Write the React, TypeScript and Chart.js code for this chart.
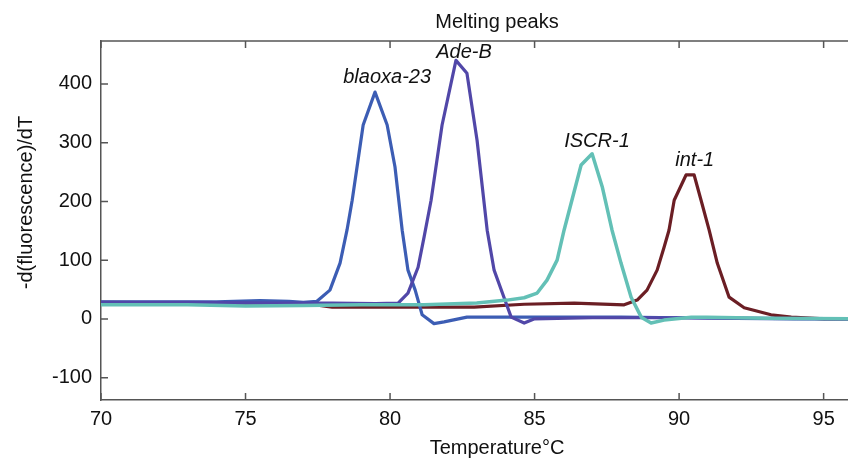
import { useEffect, useRef } from "react";
import { Chart, registerables } from "chart.js";

Chart.register(...registerables);

// ---- Data ----
const xTicks = [70, 75, 80, 85, 90, 95];
const yTicks = [-100, 0, 100, 200, 300, 400];

const blaoxaTemps = [70, 72, 74, 75.5, 76.5, 77.0, 77.47, 77.92, 78.27, 78.51, 78.69, 79.07, 79.48, 79.9, 80.17, 80.42, 80.62, 80.87, 81.11, 81.52, 81.87, 82.66, 84, 86, 88, 90, 92, 94, 96, 97.4];
const blaoxaValues = [29, 29, 29, 31, 30, 28, 30, 49, 95, 151, 202, 330, 386, 330, 259, 151, 83, 49, 7, -8, -5, 3, 3, 3, 3, 2, 1, 0, 0, 0];

const adeTemps = [70, 73, 76, 78, 79.5, 80.28, 80.62, 80.97, 81.18, 81.42, 81.8, 82.28, 82.66, 83.01, 83.36, 83.6, 83.94, 84.19, 84.64, 84.98, 87, 90, 93, 97.4];
const adeValues = [28, 28, 27, 27, 26, 27, 44, 88, 140, 202, 330, 440, 418, 304, 151, 83, 37, 3, -7, 0, 2, 2, 1, 0];

const iscrTemps = [70, 73, 75, 77, 79, 81.18, 83, 84.05, 84.64, 85.09, 85.43, 85.78, 86.02, 86.61, 86.99, 87.34, 87.68, 87.99, 88.34, 88.69, 89.03, 89.48, 90.42, 90.97, 93, 97.4];
const iscrValues = [24, 24, 22, 23, 24, 24, 27, 32, 36, 44, 66, 100, 151, 262, 281, 225, 151, 95, 37, 3, -7, -2, 3, 3, 1, 0];

const intTemps = [70, 74, 77, 78, 81.18, 82.91, 84.64, 86.37, 88.1, 88.55, 88.89, 89.24, 89.48, 89.65, 89.83, 90.24, 90.52, 90.76, 91.04, 91.32, 91.73, 92.25, 93.18, 93.88, 95.02, 97.4];
const intValues = [28, 27, 27, 20, 20, 20, 25, 27, 24, 32, 49, 83, 122, 151, 202, 245, 245, 202, 151, 95, 37, 19, 7, 3, 0, 0];

const labelNames = ["blaoxa-23", "Ade-B", "ISCR-1", "int-1"];
const labelTemps = [79.9, 82.56, 87.16, 90.54];
const labelValues = [401, 444, 293, 260];

const yTitle = "-d(fluorescence)/dT";

const FONT = '"Liberation Sans", Arial, Helvetica, sans-serif';

function pts(t: number[], v: number[]) {
  return t.map((x, i) => ({ x, y: v[i] }));
}

const framePlugin = {
  id: "frame",
  afterDraw(chart: any) {
    const { ctx, chartArea, scales } = chart;
    const { left, right, top, bottom } = chartArea;
    const x = scales.x;
    const y = scales.y;
    ctx.save();
    ctx.strokeStyle = "#555";
    ctx.lineWidth = 1.5;
    ctx.beginPath();
    ctx.moveTo(left, top);
    ctx.lineTo(right, top);
    for (const v of xTicks) {
      const px = x.getPixelForValue(v);
      ctx.moveTo(px, bottom);
      ctx.lineTo(px, bottom - 7);
      ctx.moveTo(px, top);
      ctx.lineTo(px, top + 7);
    }
    for (const v of yTicks) {
      const py = y.getPixelForValue(v);
      ctx.moveTo(left, py);
      ctx.lineTo(left + 7, py);
    }
    ctx.stroke();
    ctx.fillStyle = "#111";
    // y axis title
    ctx.save();
    ctx.font = `20px ${FONT}`;
    ctx.translate(26, (top + bottom) / 2 - 18);
    ctx.rotate(-Math.PI / 2);
    ctx.textAlign = "center";
    ctx.textBaseline = "middle";
    ctx.fillText(yTitle, 0, 0);
    ctx.restore();
    // peak labels
    ctx.font = `italic 20px ${FONT}`;
    ctx.textAlign = "center";
    ctx.textBaseline = "alphabetic";
    labelNames.forEach((n, i) => {
      ctx.fillText(n, x.getPixelForValue(labelTemps[i]), y.getPixelForValue(labelValues[i]));
    });
    ctx.restore();
  },
};

export default function App() {
  const ref = useRef<HTMLCanvasElement>(null);
  useEffect(() => {
    Chart.defaults.font.family = FONT;
    Chart.defaults.font.size = 20;
    Chart.defaults.color = "#111";
    const chart = new Chart(ref.current!, {
      type: "scatter",
      data: {
        datasets: [
          { label: "ISCR-1", data: pts(iscrTemps, iscrValues), borderColor: "#63c0b6", borderWidth: 3.5 },
          { label: "Ade-B", data: pts(adeTemps, adeValues), borderColor: "#5147a8", borderWidth: 3.2 },
          { label: "blaoxa-23", data: pts(blaoxaTemps, blaoxaValues), borderColor: "#3c5db4", borderWidth: 3.2 },
          { label: "int-1", data: pts(intTemps, intValues), borderColor: "#6b1e24", borderWidth: 3.2 },
        ].map((d) => ({ ...d, showLine: true, pointRadius: 0, tension: 0, fill: false, borderJoinStyle: "round" as const })),
      },
      options: {
        animation: false,
        responsive: true,
        maintainAspectRatio: false,
        layout: { padding: { right: 3, left: 0, top: 0, bottom: 0 } },
        plugins: {
          legend: { display: false },
          tooltip: { enabled: false },
          title: {
            display: true,
            text: "Melting peaks",
            fullSize: false,
            color: "#111",
            font: { size: 20, weight: "normal" },
            padding: { top: 10, bottom: 7 },
          },
        },
        scales: {
          x: {
            type: "linear",
            min: 70,
            max: 97.4,
            afterBuildTicks: (s: any) => {
              s.ticks = xTicks.map((v) => ({ value: v }));
            },
            afterFit: (s: any) => {
              s.height = 60;
            },
            grid: { display: false, drawTicks: false },
            border: { display: true, color: "#555", width: 1.5 },
            ticks: { padding: 7, color: "#111", font: { size: 20 }, maxRotation: 0 },
            title: { display: true, text: "Temperature°C", color: "#111", font: { size: 20 }, padding: 0 },
          },
          y: {
            type: "linear",
            min: -138,
            max: 473,
            afterBuildTicks: (s: any) => {
              s.ticks = yTicks.map((v) => ({ value: v }));
            },
            afterFit: (s: any) => {
              s.width = 101;
            },
            grid: { display: false, drawTicks: false },
            border: { display: true, color: "#555", width: 1.5 },
            ticks: { padding: 9, color: "#111", font: { size: 20 } },
            title: { display: false },
          },
        },
      },
      plugins: [framePlugin],
    });
    return () => chart.destroy();
  }, []);
  return (
    <div style={{ position: "absolute", left: 0, top: 0, width: 848, height: 460, overflow: "hidden", background: "#fff" }}>
      <div style={{ position: "relative", width: 896, height: 460 }}>
        <canvas ref={ref} />
      </div>
    </div>
  );
}
